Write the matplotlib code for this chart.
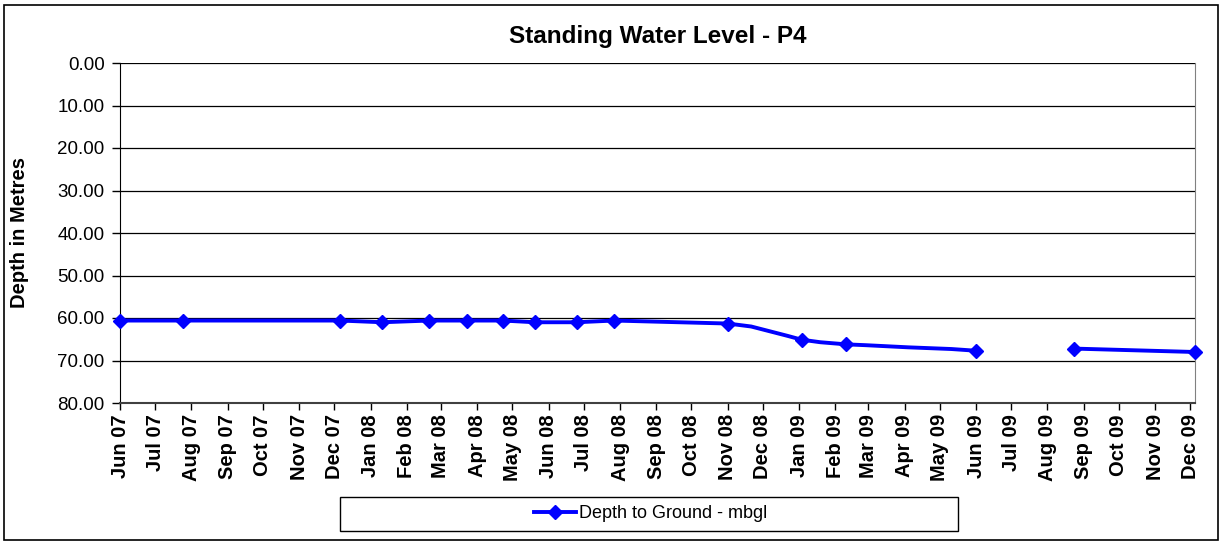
import matplotlib
matplotlib.use("Agg")
import matplotlib.pyplot as plt
import matplotlib.dates as mdates
import matplotlib.patches as mpatches
import matplotlib.ticker as mticker
import numpy as np
from datetime import datetime

plt.rcParams['font.family'] = ['Liberation Sans', 'DejaVu Sans']

# Segment 1 (measurements; only some vertices carry markers)
dates1 = ["2007-06-01", "2007-07-25", "2007-12-06", "2008-01-11", "2008-02-20",
          "2008-03-23", "2008-04-23", "2008-05-20", "2008-06-25", "2008-07-27",
          "2008-11-01", "2008-11-21", "2008-12-22", "2009-01-03", "2009-01-19",
          "2009-02-10", "2009-02-27", "2009-04-04", "2009-05-11", "2009-06-01"]
depth1 = [60.6, 60.6, 60.6, 61.0, 60.6,
          60.6, 60.6, 61.0, 61.0, 60.6,
          61.3, 62.0, 64.2, 65.1, 65.7,
          66.2, 66.4, 66.9, 67.3, 67.7]
marked1 = [0, 1, 2, 3, 4, 5, 6, 7, 8, 9, 10, 13, 15, 19]

# Segment 2 (after the gap)
dates2 = ["2009-08-24", "2009-12-05"]
depth2 = [67.2, 68.0]

series_label = "Depth to Ground - mbgl"
title = "Standing Water Level - P4"
ylabel = "Depth in Metres"

d1 = [datetime.strptime(d, "%Y-%m-%d") for d in dates1]
d2 = [datetime.strptime(d, "%Y-%m-%d") for d in dates2]

W, H = 1223, 546
fig = plt.figure(figsize=(W/100, H/100), dpi=100)
ax = fig.add_axes([120/W, 1 - 403/H, (1195-120)/W, (403-63)/H])

blue = "#0000FF"
ax.plot(d1, depth1, color=blue, lw=2.8, marker='D', ms=7.5, markevery=marked1,
        label=series_label, zorder=3, clip_on=False)
ax.plot(d2, depth2, color=blue, lw=2.8, marker='D', ms=7.5, zorder=3, clip_on=False)

ax.set_xlim(d1[0], d2[-1])
ax.set_ylim(80, 0)
ax.set_yticks(np.arange(0, 81, 10))
ax.yaxis.set_major_formatter(mticker.FormatStrFormatter('%.2f'))
ax.grid(axis='y', color='#000000', lw=0.9)
ax.set_axisbelow(True)

ax.xaxis.set_major_locator(mdates.MonthLocator())
ax.xaxis.set_major_formatter(mdates.DateFormatter('%b %y'))
ax.tick_params(axis='x', length=5, width=1, pad=3, labelsize=14.5, labelrotation=90)
ax.tick_params(axis='y', length=6, width=1, labelsize=13.5, pad=5)
for lab in ax.get_xticklabels():
    lab.set_fontweight('bold')

ax.spines['top'].set_visible(False)
ax.spines['right'].set_color('#808080')
ax.spines['left'].set_color('black')
ax.spines['bottom'].set_color('#404040')
ax.spines['bottom'].set_linewidth(1.5)

ax.set_ylabel(ylabel, fontsize=14.5, fontweight='bold')
ax.yaxis.set_label_coords(-91/1075, 0.5)

fig.text((120+1195)/2/W, 1 - 36/H, title,
         ha='center', va='center', fontsize=17.5, fontweight='bold')

# outer chart border
fig.patches.append(mpatches.Rectangle((4/W, 6/H), 1214/W, 535/H,
                                      transform=fig.transFigure, fill=False,
                                      edgecolor='black', lw=1.2))
# legend frame (wide box as in reference)
fig.patches.append(mpatches.Rectangle((340/W, 1 - 531/H), (958-340)/W, (531-497)/H,
                                      transform=fig.transFigure, fill=False,
                                      edgecolor='black', lw=1.0))

leg = fig.legend(loc='center', bbox_to_anchor=(651/W, 1 - 514/H),
                 fontsize=13, frameon=False, handlelength=2.3,
                 handletextpad=0.2, borderpad=0.2)

fig.savefig("out.png", dpi=100)
